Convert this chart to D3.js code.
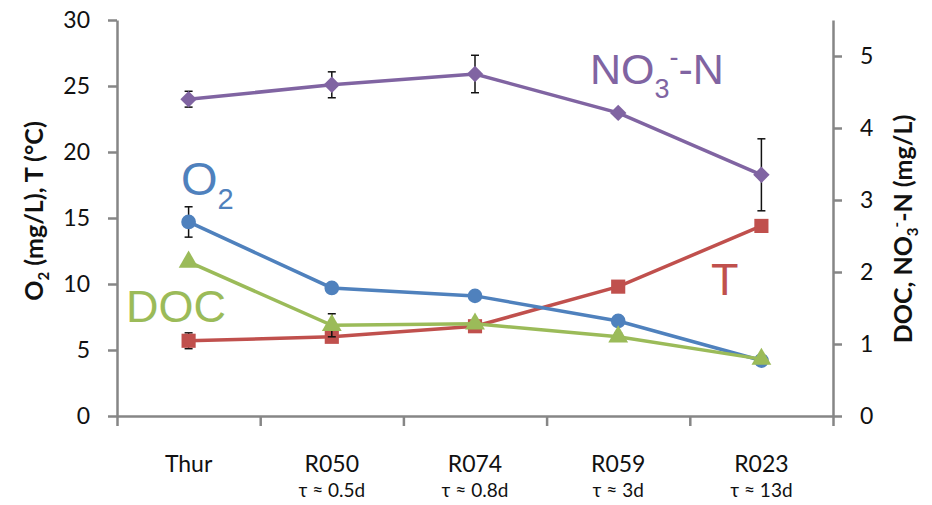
<!DOCTYPE html>
<html>
<head>
<meta charset="utf-8">
<script src="https://cdn.jsdelivr.net/npm/d3@7"></script>
<style>
  body { margin: 0; background: #fff; }
  svg text { font-family: Lato, "Open Sans", sans-serif; }
</style>
</head>
<body>
<svg id="chart" width="932" height="505"></svg>
<script>
// sites and residence times
var sites = ["Thur", "R050", "R074", "R059", "R023"];
var residence = ["", "τ ≈ 0.5d", "τ ≈ 0.8d", "τ ≈ 3d", "τ ≈ 13d"];

// left axis series (mg/L, °C)
var o2 = [14.7, 9.7, 9.1, 7.2, 4.2];
var o2Err = [1.15, 0, 0, 0, 0];
var temp = [5.7, 6.0, 6.8, 9.8, 14.4];
var tempErr = [0.6, 0, 0, 0, 0];

// right axis series (mg/L)
var no3 = [4.40, 4.60, 4.75, 4.21, 3.35];
var no3Err = [0.11, 0.18, 0.26, 0.03, 0.50];
var doc = [2.14, 1.26, 1.28, 1.10, 0.79];
var docErr = [0.03, 0.16, 0, 0.05, 0];

var leftTicks = [0, 5, 10, 15, 20, 25, 30];
var rightTicks = [0, 1, 2, 3, 4, 5];

var svg = d3.select("#chart");
var plotLeft = 117, plotRight = 833, plotTop = 20, plotBottom = 416;

var x = d3.scaleBand().domain(sites).range([plotLeft, plotRight]);
var xEdge = d3.scaleLinear().domain([0, sites.length]).range([plotLeft, plotRight]);
var yL = d3.scaleLinear().domain([0, 30]).range([plotBottom, plotTop]);
var yR = d3.scaleLinear().domain([0, 5.5]).range([plotBottom, plotTop]);

var axisColor = "#868686";

function styleAxis(g) {
  g.selectAll("path, line").attr("stroke", axisColor).attr("stroke-width", 2.5);
  g.selectAll("text").attr("fill", "#111").style("font-size", "23px")
    .style("font-family", "Lato, sans-serif");
}

// x axis
svg.append("g")
  .attr("transform", `translate(0,${plotBottom})`)
  .call(d3.axisBottom(xEdge).tickValues(d3.range(0, sites.length + 1)).tickSize(10).tickSizeOuter(0).tickFormat(""))
  .call(styleAxis);

// left axis
svg.append("g")
  .attr("transform", `translate(${plotLeft},0)`)
  .call(d3.axisLeft(yL).tickValues(leftTicks).tickSize(9).tickSizeOuter(0).tickPadding(18))
  .call(styleAxis);

// right axis
svg.append("g")
  .attr("transform", `translate(${plotRight},0)`)
  .call(d3.axisRight(yR).tickValues(rightTicks).tickSize(9).tickSizeOuter(0).tickPadding(18).tickFormat(d3.format("d")))
  .call(styleAxis);

// category labels
var cx = d => x(d) + x.bandwidth() / 2;
svg.append("g").selectAll("text")
  .data(sites)
  .join("text")
  .attr("x", cx)
  .attr("y", 472)
  .attr("text-anchor", "middle")
  .style("font-size", "23px")
  .attr("fill", "#111")
  .text(d => d);

svg.append("g").selectAll("text")
  .data(residence)
  .join("text")
  .attr("x", (d, i) => cx(sites[i]))
  .attr("y", 497)
  .attr("text-anchor", "middle")
  .style("font-size", "19px")
  .attr("fill", "#111")
  .text(d => d);

// axis titles
var lt = svg.append("text")
  .attr("transform", "translate(43,211) rotate(-90)")
  .attr("text-anchor", "middle")
  .style("font-size", "25px")
  .style("font-weight", "bold")
  .attr("fill", "#111");
lt.append("tspan").text("O");
lt.append("tspan").attr("dy", 6).style("font-size", "15px").text("2");
lt.append("tspan").attr("dy", -6).text(" (mg/L), T (°C)");

var rt = svg.append("text")
  .attr("transform", "translate(912,229) rotate(-90)")
  .attr("text-anchor", "middle")
  .style("font-size", "25px")
  .style("font-weight", "bold")
  .attr("fill", "#111");
rt.append("tspan").text("DOC, NO");
rt.append("tspan").attr("dy", 6).style("font-size", "15px").text("3");
rt.append("tspan").attr("dy", -16).style("font-size", "15px").text("-");
rt.append("tspan").attr("dy", 10).text("-N (mg/L)");

// series (diamond = square turned 45°)
var series = [
  { name: "no3", values: no3, err: no3Err, y: yR, color: "#8064A2", symbol: d3.symbolSquare, size: 135, rot: 45 },
  { name: "o2", values: o2, err: o2Err, y: yL, color: "#4F81BD", symbol: d3.symbolCircle, size: 170, rot: 0 },
  { name: "doc", values: doc, err: docErr, y: yR, color: "#9BBB59", symbol: d3.symbolTriangle, size: 170, rot: 0 },
  { name: "temp", values: temp, err: tempErr, y: yL, color: "#C0504D", symbol: d3.symbolSquare, size: 200, rot: 0 }
];

// draw order: T first, then O2, DOC, NO3
var order = ["temp", "o2", "doc", "no3"];

order.forEach(function(key) {
  var s = series.find(d => d.name === key);
  var pts = sites.map((site, i) => ({ site: site, v: s.values[i], e: s.err[i] }));

  var line = d3.line().x(d => cx(d.site)).y(d => s.y(d.v));
  svg.append("path")
    .datum(pts)
    .attr("fill", "none")
    .attr("stroke", s.color)
    .attr("stroke-width", 3.5)
    .attr("d", line);

  // error bars
  var eb = svg.append("g").selectAll("g")
    .data(pts.filter(d => d.e > 0))
    .join("g")
    .attr("stroke", "#111")
    .attr("stroke-width", 1.5);
  eb.append("line")
    .attr("x1", d => cx(d.site)).attr("x2", d => cx(d.site))
    .attr("y1", d => s.y(d.v + d.e)).attr("y2", d => s.y(d.v - d.e));
  eb.append("line")
    .attr("x1", d => cx(d.site) - 4).attr("x2", d => cx(d.site) + 4)
    .attr("y1", d => s.y(d.v + d.e)).attr("y2", d => s.y(d.v + d.e));
  eb.append("line")
    .attr("x1", d => cx(d.site) - 4).attr("x2", d => cx(d.site) + 4)
    .attr("y1", d => s.y(d.v - d.e)).attr("y2", d => s.y(d.v - d.e));

  svg.append("g").selectAll("path")
    .data(pts)
    .join("path")
    .attr("transform", d => `translate(${cx(d.site)},${s.y(d.v)}) rotate(${s.rot})`)
    .attr("d", d3.symbol().type(s.symbol).size(s.size))
    .attr("fill", s.color);
});

// series labels
function label(txt, xPos, yPos, color) {
  return svg.append("text")
    .attr("x", xPos).attr("y", yPos)
    .style("font-family", "'Liberation Sans', Arial, sans-serif")
    .style("font-size", "45px")
    .attr("fill", color)
    .text(txt);
}

var nl = label("NO", 590, 84, "#8064A2");
nl.style("font-size", "43px");
nl.append("tspan").attr("dy", 14).style("font-size", "27px").text("3");
nl.append("tspan").attr("dy", -32).style("font-size", "27px").text("-");
nl.append("tspan").attr("dy", 18).text("-N");

var ol = label("O", 181, 195, "#4F81BD");
ol.style("font-size", "47px");
ol.append("tspan").attr("dy", 14).style("font-size", "29px").text("2");

label("DOC", 126, 322, "#9BBB59");
label("T", 711, 295, "#C0504D");
</script>
</body>
</html>
